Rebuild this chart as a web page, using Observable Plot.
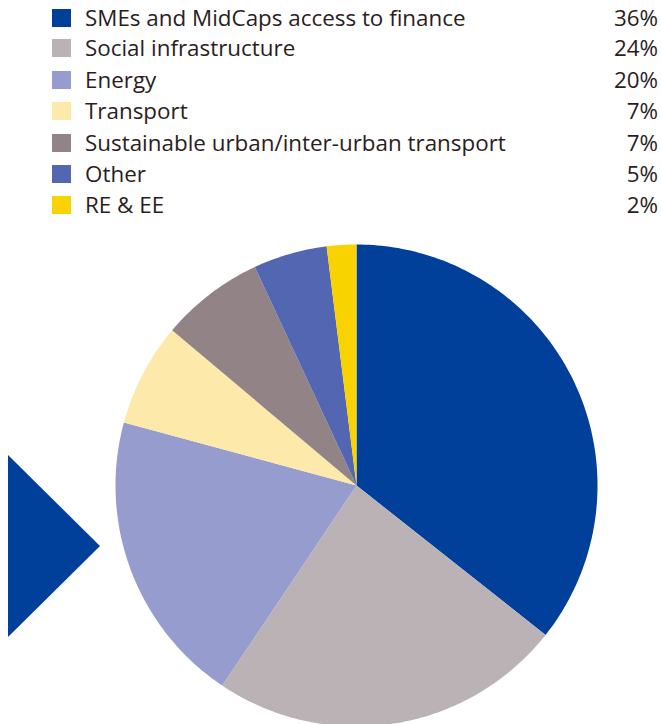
<!DOCTYPE html>
<html>
<head>
<meta charset="utf-8">
<script src="https://cdn.jsdelivr.net/npm/d3@7"></script>
<script src="https://cdn.jsdelivr.net/npm/@observablehq/plot@0.6"></script>
<style>
  html, body { margin: 0; padding: 0; background: #fff; }
  #wrap { position: relative; width: 661px; height: 724px; overflow: hidden; }
  #legend { position: relative; width: 661px; height: 230px; font-family: "Open Sans", sans-serif; color: #2b1d1e; }
  .row { position: absolute; left: 0; width: 661px; height: 30px; }
  .sw { position: absolute; left: 52px; width: 19px; height: 18px; }
  .lab { position: absolute; left: 85px; font-size: 22.4px; line-height: 30px; top: -15px; white-space: nowrap; }
  .pct { position: absolute; right: 3px; font-size: 22.4px; line-height: 30px; top: -15px; white-space: nowrap; }
  #arrow { position: absolute; left: 8px; top: 455px; width: 92px; height: 182px; background: #003f9a; clip-path: polygon(0 0, 100% 50%, 0 100%); }
  #chart { position: absolute; left: 0; top: 230px; }
</style>
</head>
<body>
<div id="wrap">
  <div id="legend"></div>
  <div id="arrow"></div>
  <div id="chart"></div>
</div>
<script>
const categories = [
  "SMEs and MidCaps access to finance",
  "Social infrastructure",
  "Energy",
  "Transport",
  "Sustainable urban/inter-urban transport",
  "Other",
  "RE & EE"
];
const shares = [36, 24, 20, 7, 7, 5, 2];
const shareLabels = ["36%", "24%", "20%", "7%", "7%", "5%", "2%"];
const colors = ["#003f9a", "#bbb2b6", "#979ccf", "#fde9a9", "#918386", "#5366b2", "#f9d300"];

// Legend (HTML, above the SVG)
const legend = document.getElementById("legend");
const rowY = [18, 48, 79.5, 111, 142.5, 174, 205];
categories.forEach((c, i) => {
  const row = document.createElement("div");
  row.className = "row";
  row.style.top = rowY[i] + "px";
  const sw = document.createElement("div");
  sw.className = "sw"; sw.style.background = colors[i]; sw.style.top = "-9px";
  const lab = document.createElement("div");
  lab.className = "lab"; lab.textContent = c;
  const pct = document.createElement("div");
  pct.className = "pct"; pct.textContent = shareLabels[i];
  row.append(sw, lab, pct);
  legend.append(row);
});

// Pie slices as closed polygons
const arcs = d3.pie().sort(null).value(d => d.value)(categories.map((name, i) => ({name, value: shares[i]})));
const pts = [];
for (const a of arcs) {
  const name = a.data.name;
  pts.push({name, x: 0, y: 0});
  const n = Math.max(2, Math.ceil((a.endAngle - a.startAngle) / (Math.PI / 180)));
  for (let k = 0; k <= n; k++) {
    const t = a.startAngle + (a.endAngle - a.startAngle) * k / n;
    pts.push({name, x: Math.sin(t), y: Math.cos(t)});
  }
}

const cx = 356, cy = 255, r = 241;
const chart = Plot.plot({
  width: 661,
  height: 494,
  margin: 0,
  x: {domain: [-1, 1], range: [cx - r, cx + r], axis: null},
  y: {domain: [-1, 1], range: [cy + r, cy - r], axis: null},
  color: {domain: categories, range: colors},
  marks: [
    Plot.line(pts, {x: "x", y: "y", z: "name", fill: "name", stroke: "none", curve: "linear-closed"})
  ]
});
document.getElementById("chart").append(chart);
</script>
</body>
</html>
